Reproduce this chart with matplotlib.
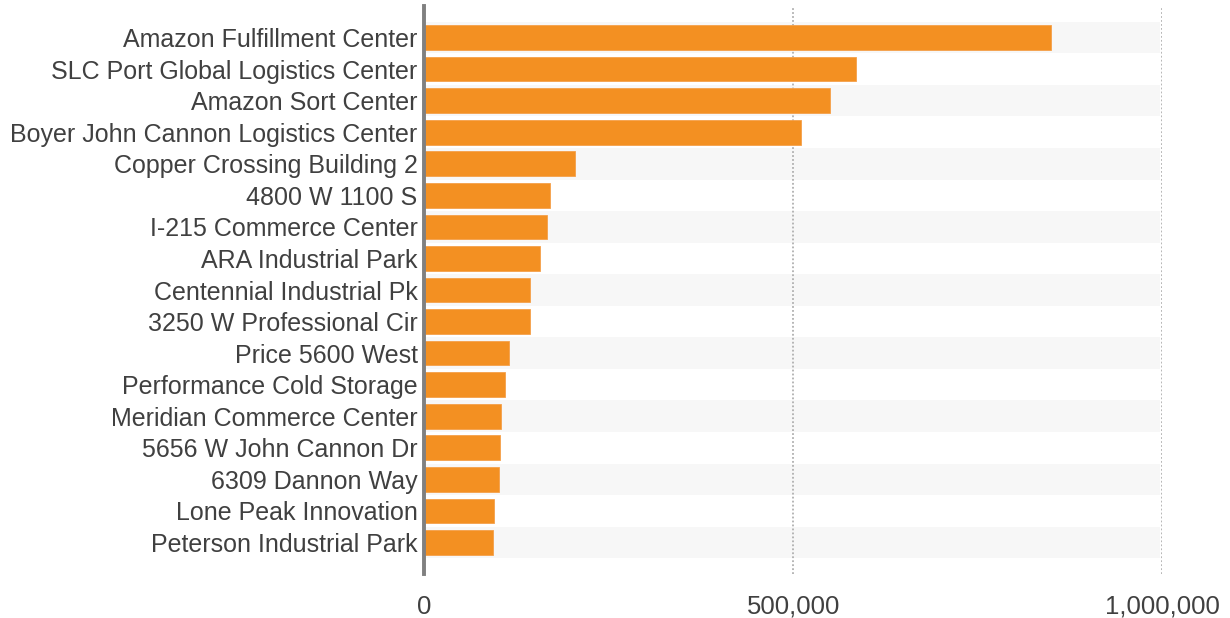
import matplotlib
matplotlib.use("Agg")
import matplotlib.pyplot as plt
from matplotlib.ticker import FuncFormatter

categories = [
    "Amazon Fulfillment Center",
    "SLC Port Global Logistics Center",
    "Amazon Sort Center",
    "Boyer John Cannon Logistics Center",
    "Copper Crossing Building 2",
    "4800 W 1100 S",
    "I-215 Commerce Center",
    "ARA Industrial Park",
    "Centennial Industrial Pk",
    "3250 W Professional Cir",
    "Price 5600 West",
    "Performance Cold Storage",
    "Meridian Commerce Center",
    "5656 W John Cannon Dr",
    "6309 Dannon Way",
    "Lone Peak Innovation",
    "Peterson Industrial Park",
]
values = [850000, 585000, 550000, 510000, 204000, 170000, 166000, 157000,
          143000, 143000, 115000, 109000, 104000, 103000, 101000, 94000, 93000]
xticks = [0, 500000, 1000000]

plt.rcParams['font.family'] = ['Liberation Sans', 'DejaVu Sans']

fig = plt.figure(figsize=(12.3, 6.18), dpi=100)
ax = fig.add_axes([424.5 / 1230, 1 - 574 / 618, (1162 - 424.5) / 1230, (574 - 6) / 618])

y = list(range(len(categories)))
xmax = xticks[-1]

# alternating background bands
for i in y:
    if i % 2 == 0:
        ax.barh(i, xmax * 0.997, height=1.0, color='#f7f7f7', zorder=0, linewidth=0)

# gridlines
for t in xticks[1:]:
    ax.axvline(t, color='#b0b0b0', linestyle=(0, (1, 1.2)), linewidth=1.3, zorder=1)

ax.barh(y, values, height=0.78, color='#F39022', edgecolor='#F5A04A', linewidth=0.6, zorder=2)

ax.set_ylim(len(categories), -1)
ax.set_xlim(0, xmax)
ax.set_yticks(y)
ax.set_yticklabels(categories, fontsize=18, color='#404040')
ax.set_xticks(xticks)
ax.xaxis.set_major_formatter(FuncFormatter(lambda v, p: f"{int(v):,}"))
ax.tick_params(axis='x', labelsize=18.5, labelcolor='#404040', length=0, pad=15)
ax.tick_params(axis='y', length=0, pad=5)

for s in ['top', 'right', 'bottom']:
    ax.spines[s].set_visible(False)
ax.spines['left'].set_color('#808080')
ax.spines['left'].set_linewidth(2.8)
ax.spines['left'].set_zorder(3)

fig.savefig("out.png", dpi=100)
